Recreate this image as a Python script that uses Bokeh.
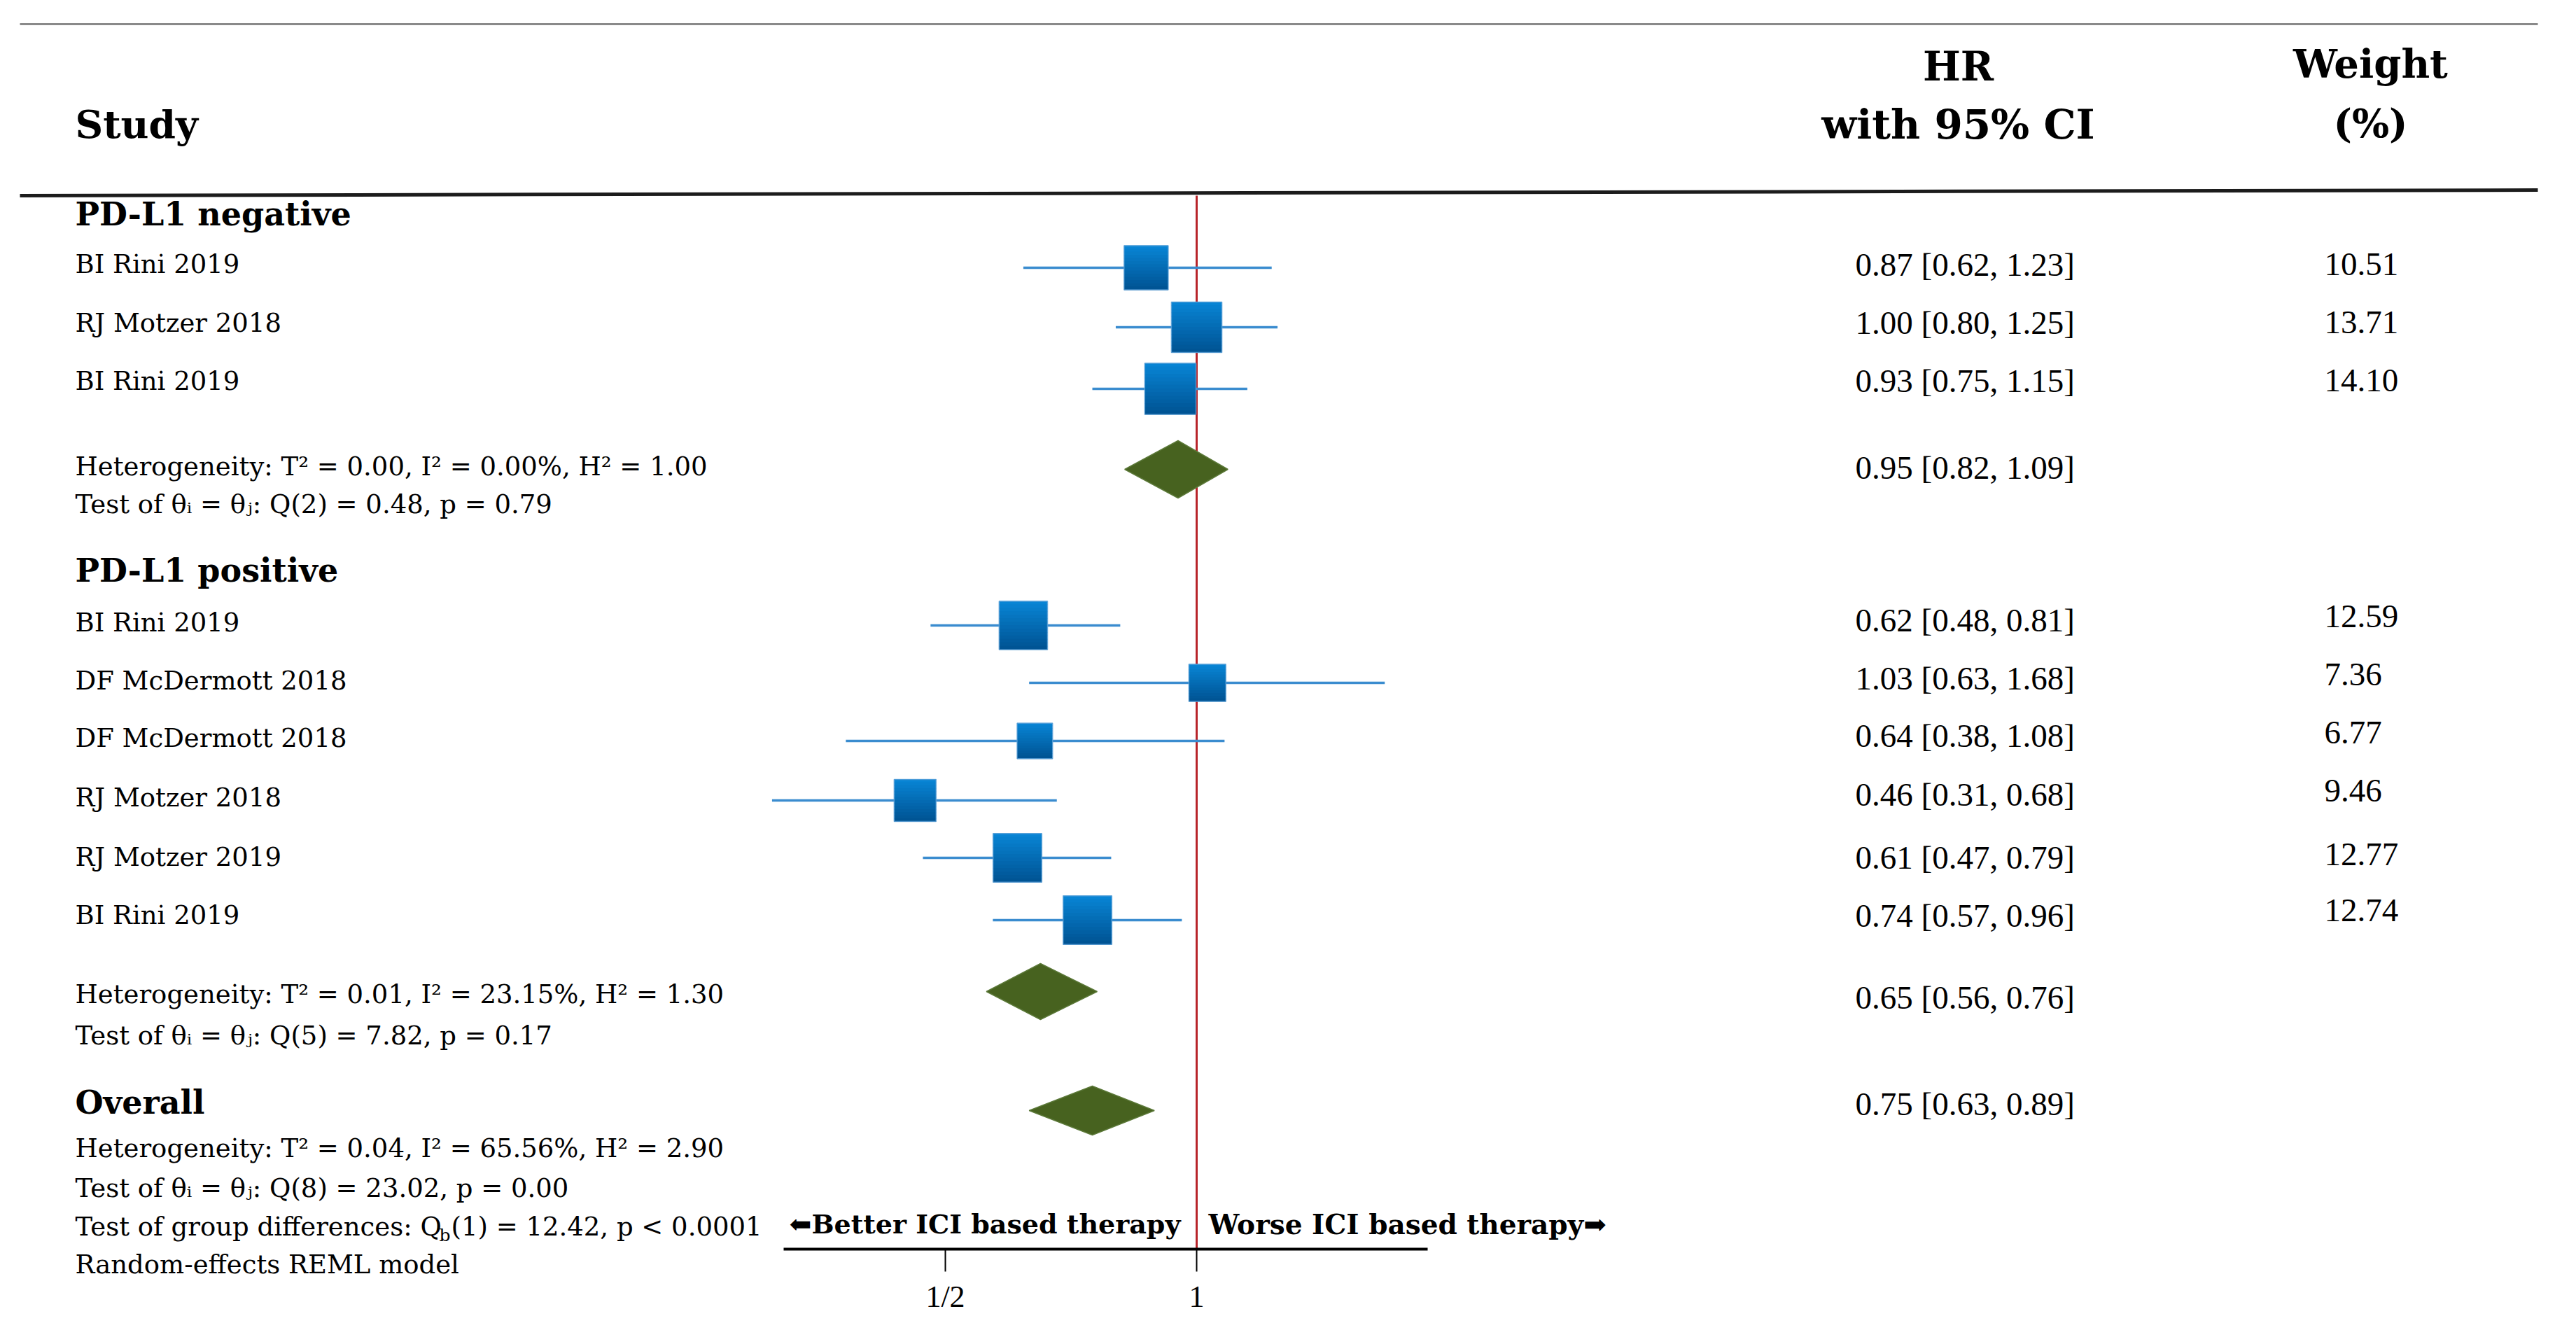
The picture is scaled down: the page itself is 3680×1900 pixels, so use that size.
import math
from bokeh.plotting import figure
from bokeh.models import Range1d, LogScale, LogAxis, FixedTicker, Label, ColumnDataSource
from bokeh.core.properties import value
from bokeh.embed import file_html
from bokeh.resources import INLINE

# ---------------- data ----------------
studies = ["BI Rini 2019", "RJ Motzer 2018", "BI Rini 2019",
           "BI Rini 2019", "DF McDermott 2018", "DF McDermott 2018",
           "RJ Motzer 2018", "RJ Motzer 2019", "BI Rini 2019"]
hr = [0.87, 1.00, 0.93, 0.62, 1.03, 0.64, 0.46, 0.61, 0.74]
ci_lo = [0.62, 0.80, 0.75, 0.48, 0.63, 0.38, 0.31, 0.47, 0.57]
ci_hi = [1.23, 1.25, 1.15, 0.81, 1.68, 1.08, 0.68, 0.79, 0.96]
weights = [10.51, 13.71, 14.10, 12.59, 7.36, 6.77, 9.46, 12.77, 12.74]

groups = ["PD-L1 negative", "PD-L1 positive", "Overall"]
pooled_hr = [0.95, 0.65, 0.75]
pooled_lo = [0.82, 0.56, 0.63]
pooled_hi = [1.09, 0.76, 0.89]
tau2 = [0.00, 0.01, 0.04]
i2 = [0.00, 23.15, 65.56]
h2 = [1.00, 1.30, 2.90]
q_df = [2, 5, 8]
q_val = [0.48, 7.82, 23.02]
q_p = [0.79, 0.17, 0.00]
qb_df, qb_val, qb_p = 1, 12.42, "< 0.0001"

tick_values = [0.5, 1.0]
tick_labels = ["1/2", "1"]

# ---------------- layout (pixels inside the figure) ----------------
W, H = 3664, 1884
AXIS_Y = 1784
X_ONE, PX_PER_LOG2 = 1709, 359


def px_to_hr(px):
    return 2 ** ((px - X_ONE) / PX_PER_LOG2)


study_text_y = [377, 461, 544, 889, 972, 1054, 1139, 1224, 1307]
mark_y = [382, 467, 555, 893, 975, 1058, 1143, 1225, 1314]
hr_text_y = [377, 460, 543, 885, 968, 1050, 1134, 1224, 1307]
w_text_y = [377, 460, 543, 880, 963, 1046, 1129, 1220, 1300]
diamond_y = [670, 1416, 1586]
diamond_h = [82, 80, 70]
pooled_text_y = [667, 1424, 1576]
group_head_y = [305, 814, 1574]
het_y = [666, 1420, 1640]
test_y = [720, 1479, 1697]

X_LEFT, X_HR, X_W = 107, 2650, 3320
REG = "DejaVu Serif"
NUM = "Liberation Serif"

p = figure(frame_width=W, frame_height=H,
           x_range=Range1d(0, W), y_range=Range1d(H, 0),
           output_backend="svg", toolbar_location=None,
           x_axis_location=None, y_axis_location=None, min_border=0)
p.outline_line_color = None
p.grid.grid_line_color = None
p.background_fill_color = "white"
p.border_fill_color = "white"

p.extra_x_ranges = {"hr": Range1d(px_to_hr(0), px_to_hr(W))}
p.extra_x_scales = {"hr": LogScale()}

axis = LogAxis(x_range_name="hr", ticker=FixedTicker(ticks=tick_values, minor_ticks=[]),
               bounds=(0.32, 1.89), fixed_location=AXIS_Y)
axis.major_label_overrides = {t: l for t, l in zip(tick_values, tick_labels)}
axis.axis_line_width = 4
axis.axis_line_color = "black"
axis.major_tick_line_width = 2
axis.major_tick_line_color = "black"
axis.major_tick_out = 32
axis.major_tick_in = 0
axis.minor_tick_out = 0
axis.minor_tick_in = 0
axis.major_label_text_font = NUM
axis.major_label_text_font_size = "44px"
axis.major_label_text_color = "black"
axis.major_label_standoff = 11
p.add_layout(axis, "below")

# header rules
p.segment(x0=[28], y0=[34], x1=[3625], y1=[34], line_color="#8a8a8a", line_width=3)
p.segment(x0=[28], y0=[279], x1=[3625], y1=[271], line_color="#1c1c1c", line_width=5)

# line of no effect
p.segment(x0=[1.0], x1=[1.0], y0=[279], y1=[AXIS_Y], x_range_name="hr",
          line_color="#B8242A", line_width=3)

# confidence intervals
p.segment(x0=ci_lo, x1=ci_hi, y0=mark_y, y1=mark_y, x_range_name="hr",
          line_color="#3A8CCF", line_width=3.5)

# weighted squares with vertical gradient
N_BANDS = 14
top_rgb = (8, 132, 212)
bot_rgb = (0, 84, 148)
bx, by, bs, bh, bc = [], [], [], [], []
sizes = [19.5 * math.sqrt(w) for w in weights]
for h, yc, s in zip(hr, mark_y, sizes):
    for k in range(N_BANDS):
        t = k / (N_BANDS - 1)
        rgb = tuple(int(round(a + (b - a) * t)) for a, b in zip(top_rgb, bot_rgb))
        bx.append(h)
        by.append(yc - s / 2 + (k + 0.5) * s / N_BANDS)
        bs.append(s)
        bh.append(s / N_BANDS + 1.0)
        bc.append("#%02x%02x%02x" % rgb)
p.rect(x=bx, y=by, width=bs, height=bh, width_units="screen", height_units="screen",
       x_range_name="hr", fill_color=bc, line_color=None)
p.rect(x=hr, y=mark_y, width=sizes, height=sizes, width_units="screen",
       height_units="screen", x_range_name="hr", fill_color=None,
       line_color="#5fa2d8", line_width=1.5, line_alpha=0.8)

# pooled diamonds
dxs = [[lo, m, hi, m] for lo, m, hi in zip(pooled_lo, pooled_hr, pooled_hi)]
dys = [[y, y - hh / 2, y, y + hh / 2] for y, hh in zip(diamond_y, diamond_h)]
p.patches(xs=dxs, ys=dys, x_range_name="hr", fill_color="#47621F",
          line_color="#5b7838", line_width=1.5)

# ---------------- texts ----------------
src = ColumnDataSource(dict(
    x=[X_LEFT] * len(studies), y=study_text_y, name=studies,
    xh=[X_HR] * len(studies), yh=hr_text_y,
    hrs=["%.2f [%.2f, %.2f]" % (a, b, c) for a, b, c in zip(hr, ci_lo, ci_hi)],
    xw=[X_W] * len(studies), yw=w_text_y, ws=["%.2f" % w for w in weights],
))
p.text(x="x", y="y", text="name", source=src, text_font=value(REG),
       text_font_size="37px", text_baseline="middle", text_color="black")
p.text(x="xh", y="yh", text="hrs", source=src, text_font=value(NUM),
       text_font_size="47px", text_baseline="middle", text_color="black")
p.text(x="xw", y="yw", text="ws", source=src, text_font=value(NUM),
       text_font_size="47px", text_baseline="middle", text_color="black")

psrc = ColumnDataSource(dict(
    x=[X_HR] * 3, y=pooled_text_y,
    t=["%.2f [%.2f, %.2f]" % (a, b, c) for a, b, c in zip(pooled_hr, pooled_lo, pooled_hi)],
))
p.text(x="x", y="y", text="t", source=psrc, text_font=value(NUM),
       text_font_size="47px", text_baseline="middle", text_color="black")


def lab(text, x, y, size, bold=False, font=REG, align="left"):
    p.add_layout(Label(x=x, y=y, text=text, text_font=font,
                       text_font_size="%dpx" % size,
                       text_font_style="bold" if bold else "normal",
                       text_align=align, text_baseline="middle",
                       text_color="black"))


lab("Study", X_LEFT, 177, 55, bold=True)
lab("HR", 2797, 94, 57, bold=True, align="center")
lab("with 95% CI", 2797, 177, 58, bold=True, align="center")
lab("Weight", 3386, 90, 56, bold=True, align="center")
lab("(%)", 3386, 175, 56, bold=True, align="center")

for g, gy in zip(groups, group_head_y):
    lab(g, X_LEFT, gy, 46, bold=True)

for k in range(3):
    lab("Heterogeneity: T\u00b2 = %.2f, I\u00b2 = %.2f%%, H\u00b2 = %.2f" % (tau2[k], i2[k], h2[k]),
        X_LEFT, het_y[k], 37)
    lab("Test of \u03b8\u1d62 = \u03b8\u2c7c: Q(%d) = %.2f, p = %.2f" % (q_df[k], q_val[k], q_p[k]),
        X_LEFT, test_y[k], 37)

lab("Test of group differences: Q", X_LEFT, 1752, 37)
lab("b", 627, 1764, 25)
lab("(%d) = %.2f, p %s" % (qb_df, qb_val, qb_p), 644, 1752, 37)
lab("Random-effects REML model", X_LEFT, 1806, 37)

lab("\u2b05Better ICI based therapy", 1686, 1748, 38, bold=True, align="right")
lab("Worse ICI based therapy\u27a1", 1726, 1748, 39, bold=True)

open("out.html", "w").write(file_html(p, INLINE))
